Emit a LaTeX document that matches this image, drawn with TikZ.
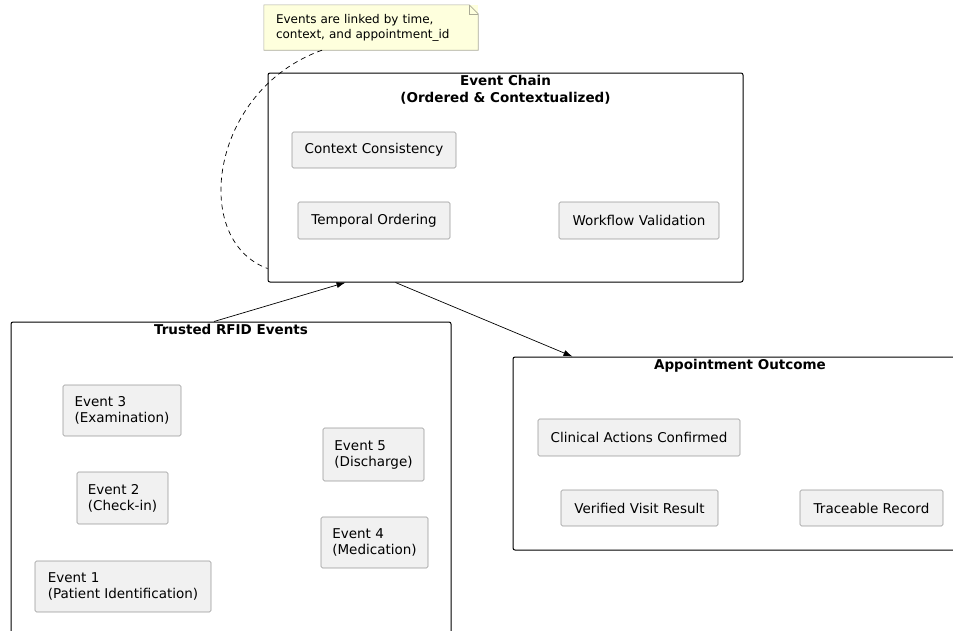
\documentclass[tikz,border=0pt]{standalone}
\usepackage{fontspec}
\setmainfont{DejaVu Sans}
\usetikzlibrary{arrows.meta}
\definecolor{boxfill}{RGB}{241,241,241}
\definecolor{boxline}{RGB}{150,150,150}
\definecolor{notefill}{RGB}{254,255,221}
\definecolor{noteline}{RGB}{170,170,150}
\begin{document}
\begin{tikzpicture}[x=1pt, y=-1pt,
    group/.style={draw, line width=1pt, rounded corners=2pt},
    grouptitle/.style={anchor=north, inner sep=3pt, align=center, font=\fontsize{13.5}{17}\selectfont\bfseries},
    item/.style={draw=boxline, fill=boxfill, rounded corners=1.5pt, line width=0.6pt, align=left, font=\fontsize{13.5}{16}\selectfont},
    notebox/.style={fill=notefill, align=left, inner xsep=12pt, inner ysep=0pt, text width=190pt, font=\fontsize{12}{15}\selectfont}]
  \useasboundingbox (0,0) rectangle (953,630);
  % groups
  \node[group, minimum width=475, minimum height=209] (chain) at (505.5,177.5) {};
  \node[grouptitle] (chaintitle) at (chain.north) {Event Chain\\(Ordered \& Contextualized)};
  \node[group, minimum width=440, minimum height=320] (rfid) at (231,482) {};
  \node[grouptitle] (rfidtitle) at (rfid.north) {Trusted RFID Events};
  \node[group, minimum width=454, minimum height=193] (outcome) at (740,453.5) {};
  \node[grouptitle] (outcometitle) at (outcome.north) {Appointment Outcome};
  % event chain
  \node[item, minimum width=164, minimum height=36] (ctx) at (374,150) {Context Consistency};
  \node[item, minimum width=152, minimum height=37] (temporal) at (374,220.5) {Temporal Ordering};
  \node[item, minimum width=160, minimum height=37] (workflow) at (639,220.5) {Workflow Validation};
  % rfid events
  \node[item, minimum width=118, minimum height=51] (ev3) at (122,410.5) {Event 3\\(Examination)};
  \node[item, minimum width=91, minimum height=52] (ev2) at (122.5,498) {Event 2\\(Check-in)};
  \node[item, minimum width=176, minimum height=51] (ev1) at (123,586.5) {Event 1\\(Patient Identification)};
  \node[item, minimum width=101, minimum height=53] (ev5) at (373.5,454.5) {Event 5\\(Discharge)};
  \node[item, minimum width=107, minimum height=51] (ev4) at (374.5,542.5) {Event 4\\(Medication)};
  % outcome
  \node[item, minimum width=202, minimum height=37] (clinical) at (639,437.5) {Clinical Actions Confirmed};
  \node[item, minimum width=157, minimum height=36] (verified) at (639.5,508) {Verified Visit Result};
  \node[item, minimum width=143, minimum height=36] (traceable) at (871.5,508) {Traceable Record};
  % note
  \node[notebox, minimum height=45] (note) at (371,27.5) {Events are linked by time,\\context, and appointment\_id};
  \draw[noteline, line width=0.6pt] (note.south west) -- (note.north west) -- ([xshift=-9pt]note.north east)
    -- ([yshift=-9pt]note.north east) -- (note.south east) -- cycle;
  \draw[noteline, line width=0.6pt] ([xshift=-9pt]note.north east) -- ([xshift=-9pt,yshift=-9pt]note.north east)
    -- ([yshift=-9pt]note.north east);
  \draw[dash pattern=on 5pt off 4pt, line width=0.7pt] ([xshift=-49pt]note.south) .. controls (210,90) and (190,240) .. ([yshift=14pt]chain.south west);
  % flow
  \draw[->, >={Latex[length=9pt, width=6pt]}, line width=0.7pt] ([xshift=-17pt]rfid.north) to ([xshift=-160pt]chain.south);
  \draw[->, >={Latex[length=9pt, width=6pt]}, line width=0.7pt] ([xshift=-110pt]chain.south) to ([xshift=60pt]outcome.north west);
\end{tikzpicture}
\end{document}
